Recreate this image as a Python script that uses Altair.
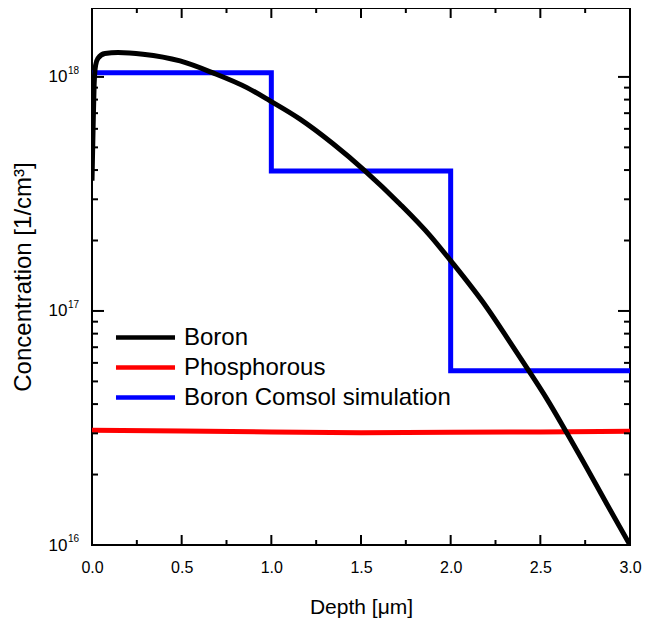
import altair as alt
import pandas as pd

# ---- data ----
boron_x = [0.0, 0.006, 0.012, 0.02, 0.033, 0.072, 0.145, 0.284, 0.491, 0.675, 0.864, 0.993,
           1.16, 1.344, 1.522, 1.718, 1.885, 2.0, 2.203, 2.314, 2.426, 2.537, 2.649, 2.738, 2.87, 3.0]
boron_y = [3.6e17, 6.0e17, 9.3e17, 1.12e18, 1.2e18, 1.26e18, 1.27e18, 1.25e18, 1.17e18, 1.04e18,
           9.0e17, 7.9e17, 6.6e17, 5.18e17, 3.97e17, 2.86e17, 2.1e17, 1.64e17, 1.03e17, 7.7e16,
           5.7e16, 4.2e16, 3.0e16, 2.28e16, 1.5e16, 1.0e16]

phos_x = [0.0, 0.5, 1.0, 1.5, 2.0, 2.5, 3.0]
phos_y = [3.09e16, 3.07e16, 3.04e16, 3.02e16, 3.03e16, 3.04e16, 3.06e16]

comsol_x = [0.0, 1.0, 1.0, 2.0, 2.0, 3.0]
comsol_y = [1.043e18, 1.043e18, 3.96e17, 3.96e17, 5.55e16, 5.55e16]

series = ["Boron", "Phosphorous", "Boron Comsol simulation"]
colors = ["#000000", "#ff0000", "#0000ff"]

x_major = [0.0, 0.5, 1.0, 1.5, 2.0, 2.5, 3.0]
x_minor = [0.25, 0.75, 1.25, 1.75, 2.25, 2.75]
y_major = [1e16, 1e17, 1e18]
y_exponents = ["16", "17", "18"]
y_minor = [m * 10 ** e for e in (16, 17) for m in range(2, 10)]

W, H = 538, 537
FONT = "Liberation Sans"

rows = []
for name, xs, ys in [(series[0], boron_x, boron_y), (series[1], phos_x, phos_y), (series[2], comsol_x, comsol_y)]:
    for i, (a, b) in enumerate(zip(xs, ys)):
        rows.append({"series": name, "depth": a, "conc": b, "idx": i})
df = pd.DataFrame(rows)

xscale = alt.Scale(domain=[0, 3], nice=False, zero=False)
yscale = alt.Scale(type="log", domain=[1e16, 1.97e18], nice=False)

color = alt.Color("series:N", scale=alt.Scale(domain=series, range=colors),
                  legend=alt.Legend(title=None, orient="none", legendX=41, legendY=317,
                                    symbolType="M-3,0H3", symbolSize=387, symbolStrokeWidth=4.5,
                                    symbolFillColor="transparent",
                                    labelFontSize=24, labelFont=FONT, labelColor="black",
                                    rowPadding=5, labelOffset=26, labelLimit=0, padding=0))

xaxis = alt.Axis(values=x_major, format=".1f", ticks=False, domain=False, grid=False,
                 labelFlush=False,
                 labelFontSize=16, labelFont=FONT, labelColor="black", labelPadding=14,
                 title="Depth [μm]", titleFontSize=21, titleFont=FONT, titleFontWeight="normal",
                 titleColor="black", titlePadding=21)
yaxis = alt.Axis(values=y_major, ticks=False, domain=False, grid=False,
                 labelExpr="'10'", labelFlush=False,
                 labelFontSize=17, labelFont=FONT, labelColor="black", labelPadding=25,
                 title="Concentration [1/cm³]", titleFontSize=24, titleFont=FONT,
                 titleFontWeight="normal", titleColor="black", titlePadding=13)

base = alt.Chart(df)

boron = base.transform_filter(alt.datum.series == series[0]).mark_line(
    strokeWidth=5, interpolate="monotone", clip=True).encode(
    x=alt.X("depth:Q", scale=xscale, axis=xaxis),
    y=alt.Y("conc:Q", scale=yscale, axis=yaxis),
    color=color, order="idx:Q")
others = base.transform_filter(alt.datum.series != series[0]).mark_line(
    strokeWidth=5, clip=True).encode(
    x=alt.X("depth:Q", scale=xscale),
    y=alt.Y("conc:Q", scale=yscale),
    color=color, order="idx:Q", detail="series:N")

exp_df = pd.DataFrame({"v": y_major, "e": y_exponents})
exps = alt.Chart(exp_df).mark_text(align="left", baseline="middle", dx=-24, dy=-6,
                                   fontSize=10, font=FONT, color="black").encode(
    y=alt.Y("v:Q", scale=yscale), x=alt.value(0), text="e:N")

xt_major = pd.DataFrame({"v": x_major})
xt_minor = pd.DataFrame({"v": x_minor})
yt_major = pd.DataFrame({"v": y_major})
yt_minor = pd.DataFrame({"v": y_minor})

def xticks(d, L):
    b = alt.Chart(d).mark_rule(color="black", strokeWidth=2)
    return [b.encode(x=alt.X("v:Q", scale=xscale), y=alt.value(H), y2=alt.value(H - L)),
            b.encode(x=alt.X("v:Q", scale=xscale), y=alt.value(0), y2=alt.value(L))]

def yticks(d, L):
    b = alt.Chart(d).mark_rule(color="black", strokeWidth=2)
    return [b.encode(y=alt.Y("v:Q", scale=yscale), x=alt.value(0), x2=alt.value(L)),
            b.encode(y=alt.Y("v:Q", scale=yscale), x=alt.value(W), x2=alt.value(W - L))]

layers = [others, boron, exps] + xticks(xt_major, 10) + xticks(xt_minor, 5) + yticks(yt_major, 12) + yticks(yt_minor, 6)

chart = alt.layer(*layers).properties(
    width=W, height=H,
    autosize=alt.AutoSizeParams(type="none"),
    padding={"left": 84, "top": 0, "right": 16, "bottom": 73},
    background="white",
).configure_view(stroke="black", strokeWidth=2)

chart.save("out.html", embed_options={"renderer": "svg", "actions": False})
